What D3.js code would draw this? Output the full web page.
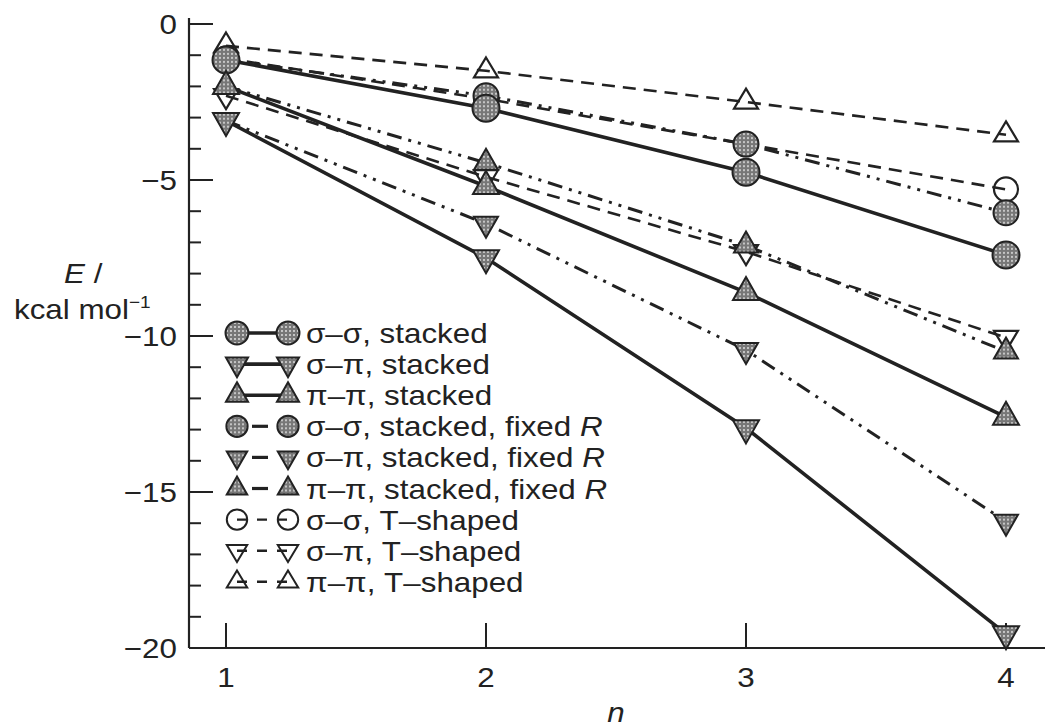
<!doctype html>
<html lang="en">
  <head>
    <meta charset="utf-8">
    <title>E vs n</title>
    <script src="https://cdn.jsdelivr.net/npm/d3@7"></script>
    <style>
      body { margin: 0; background: #fff; }
      text { font-family: "Liberation Sans", Arial, sans-serif; font-size: 28px; fill: #222; }
    </style>
  </head>
  <body>
    <script>
      // n values on the x axis
      var nValues = [1, 2, 3, 4];
      var xTicks = [1, 2, 3, 4];
      var yMajor = [0, -5, -10, -15, -20];

      // energies in kcal/mol
      var ssStacked = [-1.15, -2.7, -4.75, -7.4];
      var spStacked = [-3.1, -7.5, -12.95, -19.55];
      var ppStacked = [-2.0, -5.2, -8.6, -12.6];
      var ssFixed   = [-1.15, -2.3, -3.85, -6.05];
      var spFixed   = [-3.1, -6.4, -10.45, -15.95];
      var ppFixed   = [-2.0, -4.45, -7.1, -10.5];
      var ssT       = [-1.1, -2.4, -3.85, -5.3];
      var spT       = [-2.3, -4.9, -7.3, -10.05];
      var ppT       = [-0.7, -1.5, -2.5, -3.55];

      var seriesNames = ["σ–σ", "σ–π", "π–π"];

      var series = [
        {pair: 0, kind: "stacked", shape: "circle", values: ssStacked},
        {pair: 1, kind: "stacked", shape: "down",   values: spStacked},
        {pair: 2, kind: "stacked", shape: "up",     values: ppStacked},
        {pair: 0, kind: "fixed",   shape: "circle", values: ssFixed},
        {pair: 1, kind: "fixed",   shape: "down",   values: spFixed},
        {pair: 2, kind: "fixed",   shape: "up",     values: ppFixed},
        {pair: 0, kind: "T",       shape: "circle", values: ssT},
        {pair: 1, kind: "T",       shape: "down",   values: spT},
        {pair: 2, kind: "T",       shape: "up",     values: ppT}
      ];

      var W = 1045, H = 728, SX = 1.12;
      var ink = "#222";

      var svg = d3.select("body").append("svg")
        .attr("width", W).attr("height", H);

      // halftone fill used by the filled markers
      var pat = svg.append("defs").append("pattern")
        .attr("id", "dots").attr("patternUnits", "userSpaceOnUse")
        .attr("width", 4).attr("height", 4);
      pat.append("rect").attr("width", 4).attr("height", 4).attr("fill", "#777");
      pat.append("circle").attr("cx", 2).attr("cy", 2).attr("r", 1.05).attr("fill", "#d9d9d9");

      var x = d3.scaleLinear().domain([1, 4]).range([226, 1006]);
      var y = d3.scaleLinear().domain([0, -20]).range([24, 648]);
      var axisX = 189;

      var style = {
        stacked: {width: 3.6, dash: null,                 filled: true,  r: 13.5, w: 26, h: 23},
        fixed:   {width: 3,   dash: "15,7,3,7,3,7",       filled: true,  r: 12.5, w: 24, h: 21},
        T:       {width: 2.6, dash: "13,8",               filled: false, r: 12,   w: 24, h: 20}
      };

      function markerPath(shape, s, k) {
        k = k || 1;
        if (shape == "circle") {
          var r = s.r * k;
          return "M" + (-r) + ",0A" + r + "," + r + " 0 1,0 " + r + ",0A" + r + "," + r + " 0 1,0 " + (-r) + ",0Z";
        }
        var w = s.w * k / 2, h = s.h * k, sg = shape == "up" ? 1 : -1;
        return "M0," + (-sg * 2 * h / 3) + "L" + w + "," + (sg * h / 3) + "L" + (-w) + "," + (sg * h / 3) + "Z";
      }

      function stretchText(g, tx, ty, anchor) {
        return g.append("text")
          .attr("transform", "translate(" + tx + "," + ty + ") scale(" + SX + ",1)")
          .attr("text-anchor", anchor || "start");
      }

      // axes
      var ax = svg.append("g");
      ax.append("line").attr("x1", axisX).attr("x2", axisX).attr("y1", 18).attr("y2", y(-20))
        .attr("stroke", ink).attr("stroke-width", 2.2);
      ax.append("line").attr("x1", axisX).attr("x2", W).attr("y1", y(-20)).attr("y2", y(-20))
        .attr("stroke", ink).attr("stroke-width", 2.2);

      ax.selectAll(".ytick").data(d3.range(0, -20, -1)).enter().append("line")
        .attr("x1", axisX).attr("x2", function(d){ return axisX + (d % 5 == 0 ? 24 : 12); })
        .attr("y1", function(d){ return y(d); }).attr("y2", function(d){ return y(d); })
        .attr("stroke", ink).attr("stroke-width", 2);

      yMajor.forEach(function(d) {
        stretchText(ax, 177, y(d) + 10, "end").text(d == 0 ? "0" : "−" + Math.abs(d));
      });

      ax.selectAll(".xtick").data(xTicks).enter().append("line")
        .attr("x1", function(d){ return x(d); }).attr("x2", function(d){ return x(d); })
        .attr("y1", y(-20)).attr("y2", y(-20) - 25)
        .attr("stroke", ink).attr("stroke-width", 2);

      xTicks.forEach(function(d) {
        stretchText(ax, x(d), 687, "middle").text(d);
      });

      stretchText(ax, 616, 722, "middle").style("font-style", "italic").text("n");

      var yl = stretchText(ax, 64, 283, "start");
      yl.append("tspan").style("font-style", "italic").text("E");
      yl.append("tspan").text(" /");
      var yl2 = stretchText(ax, 14, 319, "start");
      yl2.append("tspan").text("kcal mol");
      yl2.append("tspan").attr("dy", -11).style("font-size", "17px").text("−1");

      // lines and markers, T-shaped first so filled markers sit on top
      var line = d3.line()
        .x(function(d, i){ return x(nValues[i]); })
        .y(function(d){ return y(d); });

      var order = [6, 7, 8, 3, 4, 5, 0, 1, 2];
      var plot = svg.append("g");
      order.forEach(function(i) {
        var s = series[i], st = style[s.kind];
        plot.append("path").datum(s.values)
          .attr("d", line)
          .attr("fill", "none")
          .attr("stroke", ink)
          .attr("stroke-width", st.width)
          .attr("stroke-dasharray", st.dash);
      });
      order.forEach(function(i) {
        var s = series[i], st = style[s.kind];
        plot.selectAll(null).data(s.values).enter().append("path")
          .attr("transform", function(d, j){ return "translate(" + x(nValues[j]) + "," + y(d) + ")"; })
          .attr("d", markerPath(s.shape, st))
          .attr("fill", st.filled ? "url(#dots)" : "none")
          .attr("stroke", ink)
          .attr("stroke-width", st.filled ? 2 : 2.2);
      });

      // legend
      var leg = svg.append("g");
      var kindLabel = {stacked: ", stacked", fixed: ", stacked, fixed ", T: ", T–shaped"};
      series.forEach(function(s, i) {
        var st = style[s.kind];
        var cy = 333 + i * 31.1;
        var x1 = 237, x2 = 288;
        if (s.kind == "stacked") {
          leg.append("line").attr("x1", x1).attr("x2", x2).attr("y1", cy).attr("y2", cy)
            .attr("stroke", ink).attr("stroke-width", 3.6);
        } else if (s.kind == "fixed") {
          leg.append("line").attr("x1", 252).attr("x2", 268).attr("y1", cy).attr("y2", cy)
            .attr("stroke", ink).attr("stroke-width", 3.2);
        } else {
          leg.append("line").attr("x1", x1).attr("x2", x2).attr("y1", cy).attr("y2", cy)
            .attr("stroke", ink).attr("stroke-width", 2.4).attr("stroke-dasharray", "10,10");
        }
        [x1, x2].forEach(function(mx) {
          leg.append("path")
            .attr("transform", "translate(" + mx + "," + cy + ")")
            .attr("d", markerPath(s.shape, st, 0.85))
            .attr("fill", st.filled ? "url(#dots)" : "none")
            .attr("stroke", ink)
            .attr("stroke-width", 2);
        });
        var t = stretchText(leg, 306, cy + 10, "start");
        t.append("tspan").text(seriesNames[s.pair] + kindLabel[s.kind]);
        if (s.kind == "fixed") t.append("tspan").style("font-style", "italic").text("R");
      });
    </script>
  </body>
</html>
